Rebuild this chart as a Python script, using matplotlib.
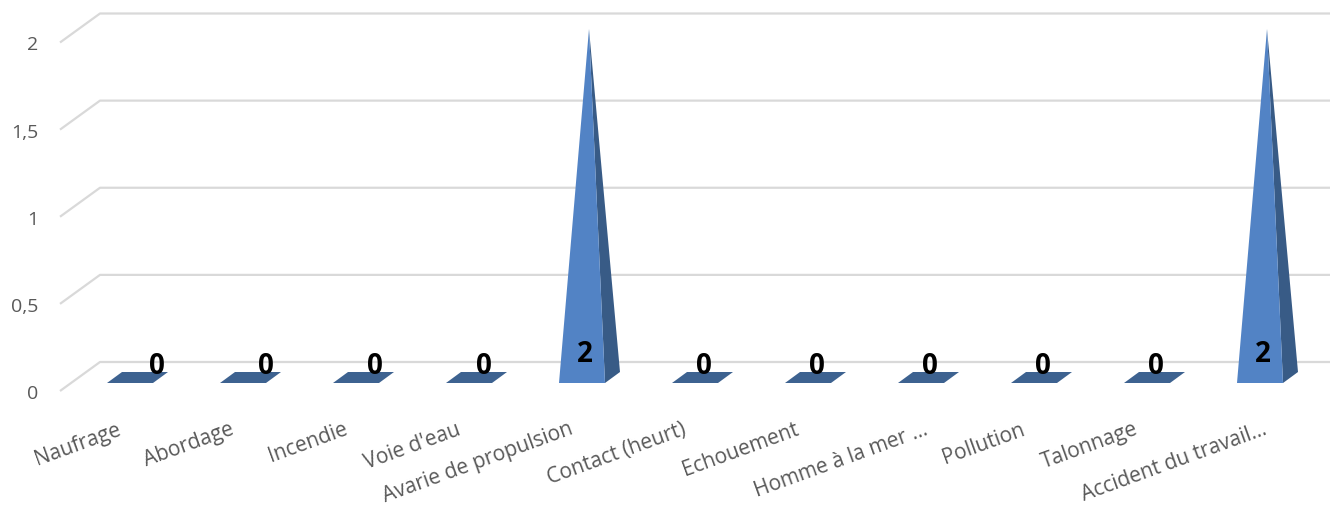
import matplotlib.pyplot as plt

categories = ["Naufrage", "Abordage", "Incendie", "Voie d'eau", "Avarie de propulsion",
              "Contact (heurt)", "Echouement", "Homme à la mer …", "Pollution",
              "Talonnage", "Accident du travail…"]
values = [0, 0, 0, 0, 2, 0, 0, 0, 0, 0, 2]
y_ticks = [0, 0.5, 1, 1.5, 2]
y_tick_labels = ["0", "0,5", "1", "1,5", "2"]

# pixel layout of the fake 3d view
W, H = 1330, 506
SX, SY = 113.0, 174.25   # px per category / per unit
X0, Y0 = 137, 378.5      # px of first category, value 0


def px(p):
    return p / SX


def py(p):
    return p / SY


plt.rcParams['font.family'] = ['Open Sans', 'DejaVu Sans']

fig = plt.figure(figsize=(W / 100, H / 100), dpi=100)
ax = fig.add_axes([0, 0, 1, 1])
ax.set_xlim(-X0 / SX, (W - X0) / SX)
ax.set_ylim((Y0 - H) / SY, Y0 / SY)
ax.axis('off')

# gridlines: floor-to-back-wall diagonal + back wall line
for v, lab in zip(y_ticks, y_tick_labels):
    ax.plot([px(60 - X0), px(100 - X0), px(W - X0)],
            [v - py(13.5), v + py(15.5), v + py(15.5)],
            color='#d9d9d9', lw=1.6, zorder=1, solid_capstyle='butt')
    ax.text(px(38 - X0), v - py(15.5), lab, ha='right', va='center',
            fontsize=14, color='#595959')

for i, (cat, v) in enumerate(zip(categories, values)):
    fl = (i + px(-30), -py(5.5))
    fr = (i + px(16), -py(5.5))
    br = (i + px(31), py(5.5))
    bl = (i + px(-15), py(5.5))
    if v == 0:
        xs, ys = zip(fl, fr, br, bl)
        ax.fill(xs, ys, color='#3d6290', lw=0, zorder=2)
        ax.text(i + px(max(2, 20 - 4 * i)), py(12.5), str(v), ha='center', va='center',
                fontsize=20, fontweight='bold', color='black', zorder=4)
    else:
        xs, ys = zip(fr, br, (i, v))
        ax.fill(xs, ys, color='#385b86', lw=0, zorder=2)
        xs, ys = zip(fl, fr, (i, v))
        ax.fill(xs, ys, color='#5283c5', lw=0, zorder=3)
        ax.text(i + px(-4), py(24), str(v), ha='center', va='center',
                fontsize=20, fontweight='bold', color='black', zorder=4)
    off = -5 if cat.endswith('…') else -20
    ax.text(i + px(off), -py(419 - Y0), cat, ha='right', va='top', rotation=20,
            rotation_mode='anchor', fontsize=15, color='#595959')

fig.savefig('out.png', dpi=100)
